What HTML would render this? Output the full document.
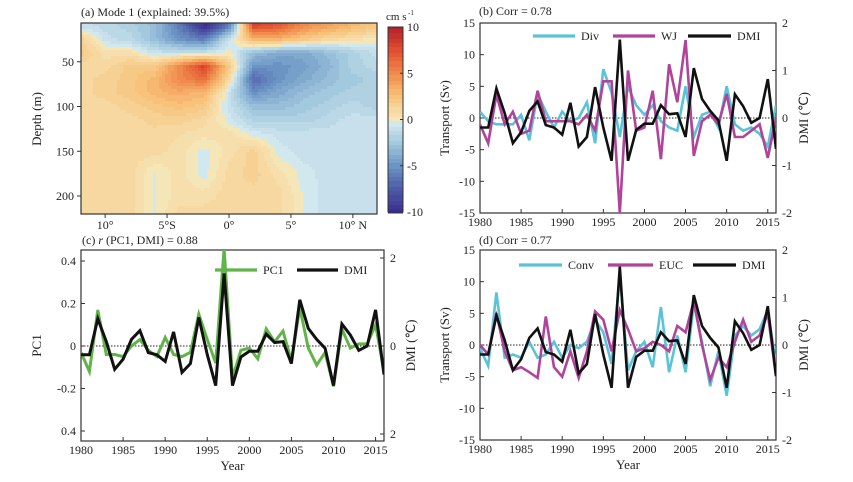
<!DOCTYPE html>
<html><head><meta charset="utf-8"><style>
body{margin:0;background:#fff;}
svg{display:block;font-family:"Liberation Serif",serif;}
text{fill:#222;}
</style></head><body>
<svg id="fig" width="853" height="482" viewBox="0 0 853 482" xmlns="http://www.w3.org/2000/svg"></svg>
<script>
// ---------- data ----------
const years = [];for(let y=1980;y<=2016;y++)years.push(y);
const dmi = [-0.2,-0.2,0.62,0.1,-0.53,-0.3,0.15,0.35,-0.15,-0.2,-0.35,0.32,-0.6,-0.4,0.65,-0.2,-0.9,1.65,-0.9,-0.25,-0.12,-0.12,0.27,0.08,0.1,-0.4,1.05,0.4,0.15,-0.05,-0.9,0.5,0.25,-0.1,0.0,0.82,-0.65];
const divSv = [1,-0.5,-1,-1,-1,0.5,-3.5,3.8,1,-1.5,1,-0.5,0,2.5,-4,7.7,4,-3,5,2,0.5,2,-0.5,-1.5,-2,5,-3,0.5,1,-1.5,5,-1,-2,-1.5,-2.5,-4.5,2];
const wjSv = [-1,-4,3.7,-1,1,-2.5,-2,4.3,-0.5,-0.5,-0.5,-0.5,-1,0.5,-2,5.8,5.8,-15,7.5,-2,-1.5,4.3,-6.5,8.5,2.5,12.3,-6,-0.5,0.5,-1,3.8,-3,-3,-2,-1,-6.3,0];
const convSv = [-0.5,-3.3,8.3,-2,-1.5,-2,0.5,-2,-1.5,0.5,-2,0,-0.5,0.5,4,2,-3,11,-4,-1,0.5,-3.5,6,-4.3,1.5,-4.3,6.5,0.5,-6.5,-1,-8,1.5,3,1.5,2.5,5.5,-3];
const eucSv = [0,-1.5,5,-1,-4,-3.5,-4.3,-5.2,4.5,-3.5,-5,-1,-5.2,-1,5.3,4,-1,5.5,2.5,-1,-0.5,0.5,0,-1,3,2,7,0,-5.5,-2,-3.5,0.5,4,0.5,1.5,5,-5];
const pc1 = [-0.03,-0.12,0.17,-0.04,-0.04,-0.05,0.0,0.03,-0.02,-0.05,0.04,-0.04,-0.05,-0.03,0.15,0.03,-0.08,0.46,-0.15,-0.02,-0.01,-0.06,0.08,0.02,0.07,-0.07,0.18,-0.01,-0.09,-0.03,-0.19,0.08,-0.01,0.01,0.01,0.1,-0.12];
const xTickYears = [1980,1985,1990,1995,2000,2005,2010,2015];
const svTicks = [15,10,5,0,-5,-10,-15];
const dmiTicks = [2,1,0,-1,-2];
const pcTicks = [0.4,0.2,0,-0.2,-0.4];
const pcTickLabels = ['0.4','0.2','0','-0.2','0.4'];
const dmiTicksC = [2,0,-2];
const dmiTickLabelsC = ['2','0','2'];
// heatmap grid (cm/s)
const lons = [-12,-10,-8,-6,-4,-2,0,2,4,6,8,10,12];
const depths = [10,25,40,55,70,85,100,115,130,150,175,200,220];
const field = [
[-1,-1.5,-2,-3,-6,-10,-6,8,7,5,4,3,2],
[1.5,-1,-1.5,-3,-5,-6,-1,3,3,2,1,0.5,0],
[2,0.5,0.5,-1,-1,-1,0,-3,-4,-4,-3,-2,-1],
[1,1,2,2,5,8,2,-5,-5,-4.5,-3.5,-2,-1.5],
[1,1.5,2,3,5,6,1,-7,-5,-4,-3,-2.5,-2],
[1,1.5,2,3,3.5,3,-1,-5,-4,-3,-2.5,-2,-2],
[1,1,1.5,2,2.5,2,-1,-3,-3,-2.5,-2,-1.5,-2],
[1,1,1,1.5,1.5,1,-0.5,-2,-2,-2,-1.5,-1,-1],
[1,1,1,1,0.8,0.5,0.5,-0.5,-1,-1,-1,-1,-1],
[1,1,1,1,0.5,-0.5,0.5,1.5,-0.5,-1,-1,-1,-1],
[1,1,1,-0.3,0.5,-0.5,1,1.5,0.5,-0.5,-1,-1,-1],
[1,1,1,-0.3,0.5,0.5,1,1,1,-0.3,-1,-1,-1],
[1,1,1,-0.3,1,1,1,1,1,-0.3,-1,-1,-1]];
const lonTicks = [-10,-5,0,5,10];
const lonTickLabels = ['10°','5°S','0°','5°','10° N'];
const depthTicks = [50,100,150,200];
const cbTicks = [10,5,0,-5,-10];

// ---------- helpers ----------
const NS='http://www.w3.org/2000/svg';
const svg=document.getElementById('fig');
function mk(tag,attrs,parent){const e=document.createElementNS(NS,tag);for(const k in attrs)e.setAttribute(k,attrs[k]);(parent||svg).appendChild(e);return e;}
function txt(s,x,y,attrs,parent){const e=mk('text',Object.assign({x:x,y:y,'font-size':12},attrs||{}),parent);e.textContent=s;return e;}

const stops=[[-10,[59,47,143]],[-7.5,[78,91,168]],[-5,[107,148,196]],[-2.5,[163,201,222]],[-0.01,[222,239,243]],[0,[245,230,184]],[2.5,[248,194,123]],[5,[239,138,74]],[7.5,[223,78,47]],[10,[177,30,43]]];
function cmap(v){v=Math.max(-10,Math.min(10,v));for(let i=0;i<stops.length-1;i++){const a=stops[i],b=stops[i+1];if(v<=b[0]){const t=(v-a[0])/(b[0]-a[0]||1);const c=a[1].map((c0,j)=>Math.round(c0+(b[1][j]-c0)*t));return 'rgb('+c.join(',')+')';}}return 'rgb(177,30,43)';}
function interp1(arr,v){for(let i=0;i<arr.length-1;i++){if(v<=arr[i+1])return i+Math.max(0,(v-arr[i])/(arr[i+1]-arr[i]));}return arr.length-1;}
function sampleField(lon,dep){const fi=interp1(lons,lon),fj=interp1(depths,dep);const i0=Math.min(Math.floor(fi),lons.length-2),j0=Math.min(Math.floor(fj),depths.length-2);const ti=Math.min(1,fi-i0),tj=Math.min(1,fj-j0);const a=field[j0][i0],b=field[j0][i0+1],c=field[j0+1][i0],d=field[j0+1][i0+1];return (a*(1-ti)+b*ti)*(1-tj)+(c*(1-ti)+d*ti)*tj;}

// ---------- panel a ----------
const A={l:81,r:377,t:23,b:214};
const ax=lon=>A.l+(lon+11.95)*(A.r-A.l)/23.9;
const ay=d=>17+0.895*d;
const gA=mk('g',{});


const cw=3,ch=3;
for(let px=A.l;px<A.r;px+=cw){for(let py=A.t;py<A.b;py+=ch){const lon=-11.95+(px+cw/2-A.l)*23.9/(A.r-A.l);const dep=(py+ch/2-17)/0.895;const v=sampleField(Math.max(-12,Math.min(12,lon)),Math.max(10,Math.min(220,dep)));const r=mk('rect',{x:px,y:py,width:Math.min(cw,A.r-px)+0.5,height:Math.min(ch,A.b-py)+0.5,fill:cmap(Math.round(v*2)/2)},gA);}}
mk('rect',{x:A.l,y:A.t,width:A.r-A.l,height:A.b-A.t,fill:'none',stroke:'#333','stroke-width':1.2});
lonTicks.forEach((lo,i)=>{const x=ax(lo);mk('line',{x1:x,x2:x,y1:A.b,y2:A.b+4,stroke:'#333'});const t=txt(lonTickLabels[i],x,229,{'text-anchor':'middle'});});
depthTicks.forEach(d=>{const y=ay(d);mk('line',{x1:A.l-4,x2:A.l,y1:y,y2:y,stroke:'#333'});const t=txt(String(d),A.l-7,y+4,{'text-anchor':'end'});});
let t=txt('(a) Mode 1 (explained: 39.5%)',81,16);
t=txt('Depth (m)',0,0,{transform:'translate(41,119) rotate(-90)','text-anchor':'middle','font-size':13});
// colorbar
const cb={x:388,w:15,t:27,b:212};
const gCb=mk('g',{});
for(let py=cb.t;py<cb.b;py+=2){const v=10-(py+1-cb.t)*20/(cb.b-cb.t);mk('rect',{x:cb.x,y:py,width:cb.w,height:2.5,fill:cmap(Math.round(v*2)/2)},gCb);}
mk('rect',{x:cb.x,y:cb.t,width:cb.w,height:cb.b-cb.t,fill:'none',stroke:'#333'},gCb);
cbTicks.forEach(v=>{const y=cb.t+(10-v)*(cb.b-cb.t)/20;mk('line',{x1:cb.x+cb.w-3,x2:cb.x+cb.w,y1:y,y2:y,stroke:'#333'},gCb);const tt=txt(String(v),cb.x+cb.w+4,y+4,{},gCb);});
t=txt('cm s',386,20,{'font-size':11});
txt('-1',408,15,{'font-size':7});

// ---------- generic time-series panel ----------
function panel(cfg){
  const g=mk('g',{});
  const x=yr=>cfg.l+(yr-1980)*(cfg.r-cfg.l)/36;
  const clipId=cfg.name+'-clip';
  const cp=mk('clipPath',{id:clipId},g);mk('rect',{x:cfg.l,y:cfg.t,width:cfg.r-cfg.l,height:cfg.b-cfg.t},cp);
  mk('rect',{x:cfg.l,y:cfg.t,width:cfg.r-cfg.l,height:cfg.b-cfg.t,fill:'none',stroke:'#333','stroke-width':1.2},g);
  const y0=cfg.yL(0);
  mk('line',{x1:cfg.l,x2:cfg.r,y1:y0,y2:y0,stroke:'#222','stroke-dasharray':'1.5,1.5','stroke-width':1},g);
  xTickYears.forEach(yr=>{const xx=x(yr);mk('line',{x1:xx,x2:xx,y1:cfg.b,y2:cfg.b-4,stroke:'#333'},g);const tt=txt(String(yr),xx,cfg.b+13,{'text-anchor':'middle'},g);});
  cfg.lTicks.forEach((v,i)=>{const yy=cfg.yL(v);mk('line',{x1:cfg.l,x2:cfg.l+4,y1:yy,y2:yy,stroke:'#333'},g);const tt=txt(cfg.lLabels[i],cfg.l-5,yy+4,{'text-anchor':'end'},g);});
  cfg.rTicks.forEach((v,i)=>{const yy=cfg.yR(v);mk('line',{x1:cfg.r-4,x2:cfg.r,y1:yy,y2:yy,stroke:'#333'},g);const tt=txt(cfg.rLabels[i],cfg.r+6,yy+4,{},g);});
  const sg=mk('g',{'clip-path':'url(#'+clipId+')'},g);
  cfg.series.forEach(s=>{const sc=s.right?cfg.yR:cfg.yL;const pts=s.data.map((v,i)=>x(years[i]).toFixed(1)+','+sc(v).toFixed(1)).join(' ');const pl=mk('polyline',{points:pts,fill:'none',stroke:s.color,'stroke-width':cfg.lw||2.6,'stroke-linejoin':'miter'},sg);});
  cfg.legend.forEach(le=>{const lg=mk('g',{},g);mk('line',{x1:le.x1,x2:le.x2,y1:le.y,y2:le.y,stroke:le.color,'stroke-width':3.2},lg);txt(le.label,le.x2+6,le.y+4,{},lg);});
  let tt=txt('',cfg.tx,cfg.ty,{},g);tt.innerHTML=cfg.title;
  tt=txt(cfg.lTitle,0,0,{transform:'translate('+cfg.ltx+','+((cfg.t+cfg.b)/2)+') rotate(-90)','text-anchor':'middle','font-size':13},g);
  tt=txt('DMI (℃)',0,0,{transform:'translate('+cfg.rtx+','+((cfg.t+cfg.b)/2)+') rotate(-90)','text-anchor':'middle','font-size':13},g);
  if(cfg.xTitle){tt=txt('Year',(cfg.l+cfg.r)/2,cfg.b+29,{'text-anchor':'middle','font-size':13},g);}
}
const cyan='#5bc3d9',mag='#b0449a',green='#62b44a',blk='#111';
panel({name:'panel-b',l:480,r:776,t:23,b:213,yL:v=>118-v*95/15,yR:v=>118-v*47.5,
 lTicks:svTicks,lLabels:svTicks.map(String),rTicks:dmiTicks,rLabels:dmiTicks.map(String),
 series:[{data:divSv,color:cyan,dn:'div-line'},{data:wjSv,color:mag,dn:'wj-line'},{data:dmi,color:blk,right:true,dn:'dmi-line'}],
 legend:[{x1:533,x2:575,y:36,color:cyan,label:'Div',dn:'legend-div'},{x1:613,x2:655,y:36,color:mag,label:'WJ',dn:'legend-wj'},{x1:688,x2:731,y:36,color:blk,label:'DMI',dn:'legend-dmi'}],
 title:'(b) Corr = 0.78',tx:479,ty:15,lTitle:'Transport (Sv)',ltx:449,rtx:808});
panel({name:'panel-d',l:480,r:776,t:250,b:440,yL:v=>345-v*95/15,yR:v=>345-v*47.5,
 lTicks:svTicks,lLabels:svTicks.map(String),rTicks:dmiTicks,rLabels:dmiTicks.map(String),
 series:[{data:convSv,color:cyan,dn:'conv-line'},{data:eucSv,color:mag,dn:'euc-line'},{data:dmi,color:blk,right:true,dn:'dmi-line'}],
 legend:[{x1:519,x2:562,y:265,color:cyan,label:'Conv',dn:'legend-conv'},{x1:608,x2:653,y:265,color:mag,label:'EUC',dn:'legend-euc'},{x1:693,x2:736,y:265,color:blk,label:'DMI',dn:'legend-dmi'}],
 title:'(d) Corr = 0.77',tx:479,ty:244,lTitle:'Transport (Sv)',ltx:449,rtx:808,xTitle:true});
panel({name:'panel-c',l:81,r:384,t:250,b:441,yL:v=>346-v*212.5,yR:v=>346-v*44,lw:3,
 lTicks:pcTicks,lLabels:pcTickLabels,rTicks:dmiTicksC,rLabels:dmiTickLabelsC,
 series:[{data:pc1,color:green,dn:'pc1-line'},{data:dmi,color:blk,right:true,dn:'dmi-line'}],
 legend:[{x1:215,x2:257,y:270,color:green,label:'PC1',dn:'legend-pc1'},{x1:297,x2:338,y:270,color:blk,label:'DMI',dn:'legend-dmi'}],
 title:'(c) <tspan font-style="italic">r</tspan> (PC1, DMI) = 0.88',tx:82,ty:244,lTitle:'PC1',ltx:41,rtx:415,xTitle:true});
</script>
</body></html>
